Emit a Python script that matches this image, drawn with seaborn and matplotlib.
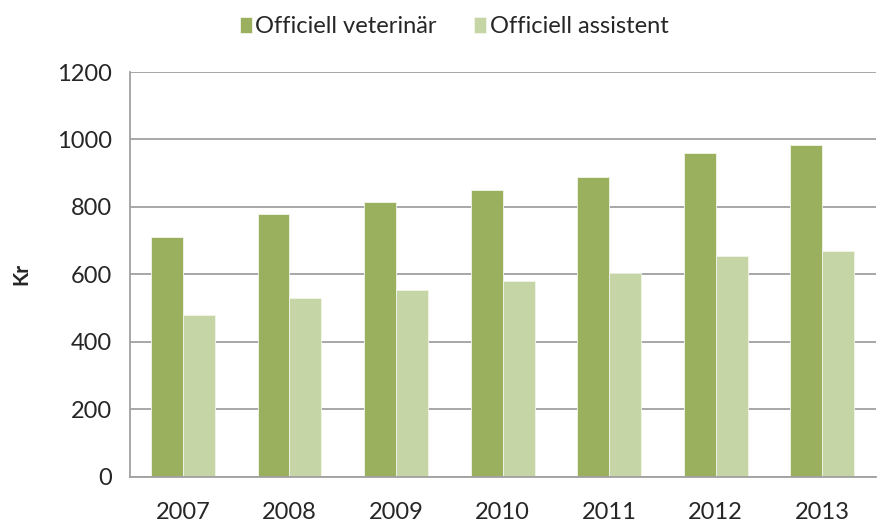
import pandas as pd
import matplotlib.pyplot as plt
import seaborn as sns
from matplotlib.ticker import FixedLocator

years = ["2007", "2008", "2009", "2010", "2011", "2012", "2013"]
veterinar = [710, 780, 814, 851, 889, 960, 984]
assistent = [480, 530, 553, 579, 605, 653, 670]
series_names = ["Officiell veterinär", "Officiell assistent"]
colors = ["#9BB05E", "#C6D5A6"]

df = pd.DataFrame({
    "year": years * 2,
    "value": veterinar + assistent,
    "series": [series_names[0]] * len(years) + [series_names[1]] * len(years),
})

sns.set_style("white")
plt.rcParams["font.family"] = ["Lato", "DejaVu Sans"]

fig = plt.figure(figsize=(8.88, 5.26), dpi=100)
ax = fig.add_axes([0.146, 0.094, 0.84, 0.769])

sns.barplot(data=df, x="year", y="value", hue="series", palette=colors,
            width=0.6, gap=0, edgecolor="#f2f5ea", linewidth=0.6,
            saturation=1, ax=ax)

ax.set_ylim(0, 1200)
ax.set_xlim(-0.5, len(years) - 0.5)
ax.set_yticks(range(0, 1201, 200))
ax.yaxis.grid(True, color="#a0a0a0", linewidth=1.3)
ax.set_axisbelow(True)

for s in ["top", "right"]:
    ax.spines[s].set_visible(False)
for s in ["left", "bottom"]:
    ax.spines[s].set_color("#a0a0a0")
    ax.spines[s].set_linewidth(1.3)

ax.tick_params(axis="y", which="major", length=5, width=1.3, color="#a0a0a0",
               labelsize=17, pad=8)
ax.tick_params(axis="x", which="major", length=0, labelsize=17, pad=18)
ax.xaxis.set_minor_locator(FixedLocator([i - 0.5 for i in range(len(years) + 1)]))
ax.tick_params(axis="x", which="minor", length=6, width=1.3, color="#a0a0a0")

ax.set_xlabel("")
ax.set_ylabel("Kr", fontsize=15, fontweight="bold", labelpad=18)

ax.legend(loc="center", bbox_to_anchor=(0.435, 1.112), ncol=2, frameon=False,
          fontsize=17, handlelength=0.5, handleheight=0.7, handletextpad=0.15,
          columnspacing=1.6)

plt.savefig("out.png", dpi=100)
